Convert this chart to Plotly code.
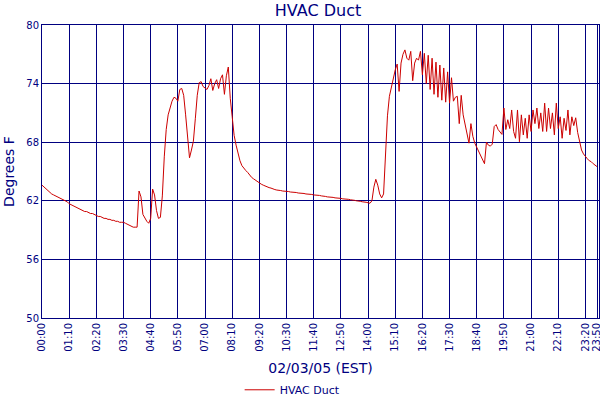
import plotly.graph_objects as go

# Sample interval (minutes) and temperature readings every 5 minutes from 00:00 to 23:50
interval = 5
temps = [
    # 00:00
    63.6, 63.4, 63.2, 63.0, 62.9, 62.7, 62.6, 62.5, 62.4, 62.3, 62.2, 62.1,
    # 01:00
    62.0, 61.9, 61.7, 61.6, 61.5, 61.4, 61.3, 61.2, 61.1, 61.0, 60.9, 60.9,
    # 02:00
    60.8, 60.7, 60.7, 60.6, 60.5, 60.4, 60.4, 60.3, 60.2, 60.2, 60.1, 60.1,
    # 03:00
    60.0, 60.0, 59.9, 59.9, 59.8, 59.8, 59.8, 59.7, 59.6, 59.5, 59.4, 59.3,
    # 04:00
    59.3, 59.3, 63.0, 62.4, 60.6, 60.2, 59.9, 59.7, 60.2, 63.2, 62.6, 61.0,
    # 05:00
    60.2, 60.3, 62.5, 66.5, 69.3, 70.8, 71.6, 72.2, 72.6, 72.5, 72.2, 73.4,
    # 06:00
    73.5, 72.8, 70.8, 68.2, 66.4, 67.2, 68.1, 70.4, 72.8, 74.1, 74.2, 73.7,
    # 07:00
    73.5, 73.4, 73.8, 74.5, 73.3, 74.0, 74.4, 73.5, 74.5, 74.9, 72.9, 74.8,
    # 08:00
    75.7, 72.5, 70.6, 68.7, 67.7, 66.8, 66.1, 65.6, 65.3, 65.1, 64.9, 64.6,
    # 09:00
    64.4, 64.25, 64.1, 63.95, 63.8, 63.7, 63.6, 63.5, 63.45, 63.35, 63.3, 63.2,
    # 10:00
    63.15, 63.1, 63.1, 63.05, 63.0, 63.0, 62.95, 62.95, 62.9, 62.9, 62.85, 62.85,
    # 11:00
    62.8, 62.8, 62.75, 62.75, 62.7, 62.7, 62.65, 62.65, 62.6, 62.6, 62.55, 62.55,
    # 12:00
    62.5, 62.5, 62.45, 62.4, 62.4, 62.35, 62.35, 62.3, 62.3, 62.25, 62.25, 62.2,
    # 13:00
    62.2, 62.15, 62.15, 62.1, 62.1, 62.05, 62.0, 62.0, 61.95, 61.9, 61.9, 61.85,
    # 14:00
    61.8, 61.75, 62.0, 63.4, 64.2, 63.6, 62.7, 62.3, 62.7, 66.8, 70.7, 72.7,
    # 15:00
    73.7, 74.6, 75.4, 76.0, 73.2, 76.1, 77.0, 77.45, 76.6, 76.4, 77.3, 74.3,
    # 16:00
    76.1, 76.6, 76.4, 77.3, 74.9, 77.1, 74.0, 76.9, 73.4, 76.6, 72.9, 76.2,
    # 17:00
    72.6, 75.9, 72.3, 75.6, 72.1, 75.2, 72.0, 74.6, 72.2, 72.6, 72.7, 69.9,
    # 18:00
    72.8, 70.8, 69.8, 68.7, 67.9, 69.9, 68.6, 67.9, 67.5, 67.1, 66.7, 66.3,
    # 19:00
    65.8, 68.0, 67.7, 67.6, 67.8, 69.6, 69.8, 69.3, 69.0, 68.8, 71.5, 69.3,
    # 20:00
    70.3, 69.4, 71.3, 69.1, 68.4, 71.3, 68.05, 70.8, 68.75, 70.45, 68.4, 70.8,
    # 21:00
    69.1, 71.3, 69.9, 71.5, 69.4, 71.0, 69.1, 72.0, 69.1, 71.5, 69.4, 71.0,
    # 22:00
    68.75, 72.0, 69.4, 70.6, 68.4, 70.45, 69.2, 71.3, 68.75, 70.6, 69.7, 70.5,
    # 23:00
    69.0, 68.0, 67.2, 66.8, 66.5, 66.3, 66.1, 66.0, 65.8, 65.6, 65.5,
]
minutes = [i * interval for i in range(len(temps))]

tick_minutes = [0, 70, 140, 210, 280, 350, 420, 490, 560, 630, 700, 770, 840,
                910, 980, 1050, 1120, 1190, 1260, 1330, 1400, 1430]
tick_labels = ["00:00", "01:10", "02:20", "03:30", "04:40", "05:50", "07:00",
               "08:10", "09:20", "10:30", "11:40", "12:50", "14:00", "15:10",
               "16:20", "17:30", "18:40", "19:50", "21:00", "22:10", "23:20", "23:50"]
y_ticks = [50, 56, 62, 68, 74, 80]

navy = "#000080"
font_family = "DejaVu Sans"

fig = go.Figure()
fig.add_trace(go.Scatter(
    x=minutes, y=temps, mode="lines", name="HVAC Duct",
    line=dict(color="#CC0000", width=1),
))

fig.update_layout(
    width=600, height=400,
    margin=dict(l=42, r=1, t=25, b=82, autoexpand=False),
    paper_bgcolor="white", plot_bgcolor="white",
    font=dict(family=font_family, color=navy),
    title=dict(text="HVAC Duct", x=0.53, xanchor="center", y=0.975, yanchor="middle",
               font=dict(size=16, color=navy, family=font_family)),
    showlegend=True,
    legend=dict(orientation="h", x=0.45, xanchor="center", y=-0.245, yanchor="middle",
                font=dict(size=11, color=navy, family=font_family),
                bgcolor="rgba(0,0,0,0)", itemwidth=30),
    xaxis=dict(
        range=[0, 1435], tickmode="array", tickvals=tick_minutes, ticktext=tick_labels,
        tickangle=-90, tickfont=dict(size=10, color=navy, family=font_family),
        ticklabeloverflow="allow",
        showgrid=True, gridcolor=navy, gridwidth=1,
        showline=True, linecolor=navy, linewidth=1, mirror=True,
        ticks="", zeroline=False, automargin=False,
        title=dict(text="02/03/05 (EST)", font=dict(size=14, color=navy, family=font_family),
                   standoff=12),
    ),
    yaxis=dict(
        range=[50, 80], tickmode="array", tickvals=y_ticks,
        tickfont=dict(size=10, color=navy, family=font_family),
        showgrid=True, gridcolor=navy, gridwidth=1,
        showline=True, linecolor=navy, linewidth=1, mirror=True,
        ticks="", zeroline=False, automargin=False,
        title=dict(text="Degrees F", font=dict(size=14, color=navy, family=font_family),
                   standoff=8),
    ),
)

fig.write_html(
    "out.html",
    config={"displayModeBar": False},
    post_script="document.body.style.margin='0';document.body.style.overflow='hidden';",
)
